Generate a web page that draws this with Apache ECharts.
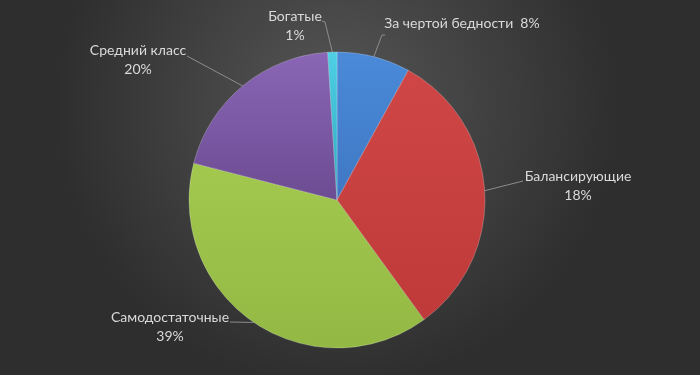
<!DOCTYPE html>
<html>
<head>
<meta charset="utf-8">
<script src="https://cdn.jsdelivr.net/npm/echarts@6/dist/echarts.min.js"></script>
<style>
html,body{margin:0;padding:0;background:#3a3a3a;}
#chart{width:700px;height:375px;}
</style>
</head>
<body>
<div id="chart"></div>
<script>
// Data
var categories = ['За чертой бедности', 'Балансирующие', 'Самодостаточные', 'Средний класс', 'Богатые'];
var values = [8, 32, 39, 20, 1];              // slice sizes as drawn
var percentLabels = ['8%', '18%', '39%', '20%', '1%']; // label texts as printed
var singleLine = [true, false, false, false, false];

// Styles / layout
var colorsTop = ['#4a8ad8', '#d04646', '#a2c84e', '#8a66b6', '#4fd0e4'];
var colorsBottom = ['#3f78c4', '#bf3a3a', '#93b944', '#6c4c92', '#2fa8c0'];
var labelAnchors = [[462, 23], [578, 186], [170, 327], [138, 60], [295, 26]];
var lineEnds = [[[382, 35], [385, 35]], [[523, 181]], [[230, 322]], [[187, 56]], [[325, 22], [322, 21]]];

var chart = echarts.init(document.getElementById('chart'), null, {renderer: 'canvas'});

var data = categories.map(function (c, i) {
  return {
    name: c,
    value: values[i],
    itemStyle: {
      color: new echarts.graphic.LinearGradient(0, 0, 0, 1, [
        {offset: 0, color: colorsTop[i]},
        {offset: 1, color: colorsBottom[i]}
      ])
    }
  };
});

var option = {
  backgroundColor: new echarts.graphic.RadialGradient(0.48, 0.28, 0.75, [
    {offset: 0, color: '#565656'},
    {offset: 1, color: '#2e2e2e'}
  ]),
  animation: false,
  series: [{
    type: 'pie',
    center: [337, 200],
    radius: [0, 148],
    startAngle: 90,
    clockwise: true,
    data: data,
    itemStyle: {
      borderColor: 'rgba(255,255,255,0.22)',
      borderWidth: 1
    },
    label: {
      show: true,
      position: 'outside',
      color: '#dadada',
      fontFamily: 'Lato',
      fontSize: 14,
      lineHeight: 19,
      align: 'center',
      formatter: function (p) {
        var i = p.dataIndex;
        return singleLine[i] ? categories[i] + '  ' + percentLabels[i]
                             : categories[i] + '\n' + percentLabels[i];
      }
    },
    labelLine: {
      show: true,
      length: 10,
      length2: 10,
      lineStyle: {color: '#8c8c8c', width: 1}
    },
    labelLayout: function (params) {
      var i = params.dataIndex;
      var start = params.labelLinePoints ? params.labelLinePoints[0] : null;
      var pts = [start].concat(lineEnds[i]);
      return {
        x: labelAnchors[i][0],
        y: labelAnchors[i][1],
        align: 'center',
        verticalAlign: 'middle',
        labelLinePoints: start ? pts : undefined
      };
    }
  }]
};
chart.setOption(option);
</script>
</body>
</html>
